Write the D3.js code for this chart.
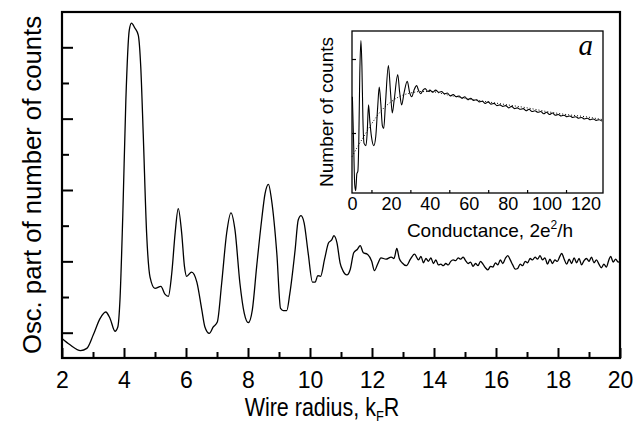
<!DOCTYPE html>
<html><head><meta charset="utf-8">
<script src="https://cdn.jsdelivr.net/npm/d3@7"></script>
<style>
body{margin:0;background:#fff;}
svg{display:block;font-family:"Liberation Sans",Arial,Helvetica,sans-serif;}
</style></head>
<body>
<svg id="chart" width="640" height="436"></svg>
<script>
// ---- main chart data: wire radius kFR vs oscillating part of counts ----
const mainX = [2.0,2.26,2.6,2.8,3.01,3.23,3.41,3.55,3.71,3.8,3.87,3.96,4.06,4.17,4.24,4.35,4.46,4.54,4.62,4.73,4.84,5.0,5.19,5.32,5.43,5.54,5.65,5.75,5.86,5.95,6.02,6.18,6.35,6.51,6.61,6.75,6.88,7.01,7.15,7.31,7.45,7.58,7.74,7.88,8.01,8.14,8.28,8.44,8.55,8.66,8.76,8.93,9.05,9.14,9.25,9.35,9.52,9.62,9.71,9.81,9.94,10.08,10.17,10.25,10.34,10.47,10.6,10.7,10.77,10.87,10.97,11.06,11.19,11.3,11.41,11.53,11.62,11.72,11.85,11.99,12.08,12.18,12.29,12.45,12.62,12.71,12.8,12.88,12.97,13.11,13.24,13.37,13.5,
13.58,13.66,13.74,13.82,13.9,13.98,14.06,14.14,14.22,14.3,14.38,14.46,14.54,14.62,14.7,14.78,14.86,14.94,15.02,15.1,15.18,15.26,15.34,15.42,15.5,15.58,15.66,15.74,15.82,15.9,15.98,16.06,16.14,16.22,16.3,16.38,16.46,16.54,16.62,16.7,16.78,16.86,16.94,17.02,17.1,17.18,17.26,17.34,17.42,17.5,17.58,17.66,17.74,17.82,17.9,17.98,18.06,18.12,18.2,18.28,18.36,18.44,18.52,18.6,18.68,18.76,18.84,18.92,19.0,19.08,19.16,19.24,19.32,19.4,19.48,19.56,19.64,19.7,19.78,19.86,19.94,20.0];
const mainY = [-1.08,-1.17,-1.25,-1.22,-1.03,-0.8,-0.71,-0.8,-0.98,-0.92,-0.54,0.63,2.26,3.24,3.34,3.27,3.17,2.73,1.79,0.39,-0.22,-0.38,-0.35,-0.46,-0.49,-0.17,0.4,0.74,0.4,-0.07,-0.21,-0.15,-0.29,-0.68,-0.92,-1.01,-0.92,-0.85,-0.31,0.39,0.68,0.44,-0.31,-0.73,-0.86,-0.68,-0.07,0.58,0.95,1.08,0.86,0.11,-0.66,-0.69,-0.69,-0.45,0.16,0.58,0.64,0.54,0.12,-0.29,-0.29,-0.2,-0.21,0.03,0.26,0.3,0.36,0.26,-0.02,-0.13,-0.19,-0.11,0.12,0.17,0.22,0.12,0.1,0.0,-0.13,-0.04,0.05,0.03,0.06,0.04,0.18,0.04,-0.02,-0.06,0.03,0.1,0.02,
0.07,-0.02,0.04,0.0,0.05,-0.03,0.02,-0.05,-0.04,-0.06,-0.03,-0.05,0.0,0.02,0.01,0.05,0.03,0.06,0.01,-0.03,-0.01,-0.07,-0.03,-0.06,0.0,-0.04,-0.09,-0.12,-0.07,-0.08,-0.02,-0.05,0.02,-0.03,0.04,0.08,0.02,-0.05,-0.11,-0.1,-0.04,-0.06,0.0,-0.02,0.04,0.02,0.06,0.03,0.08,0.02,0.05,-0.04,0.03,-0.03,0.02,0.0,0.07,0.11,0.03,-0.04,0.03,-0.03,0.05,-0.02,0.04,-0.05,0.01,0.04,0.0,0.06,-0.02,0.02,-0.04,-0.09,-0.04,-0.08,0.02,0.07,-0.01,0.03,-0.01,0.0];
const mainXTicks = [2,4,6,8,10,12,14,16,18,20];
const mainXMinor = [3,5,7,9,11,13,15,17,19];
const mainYTicks = [-1,0,1,2,3];
const mainYMinor = [-0.5,0.5,1.5,2.5];

// ---- inset data: conductance histogram ----
const insetX = [0.2,0.8,1.4,1.9,2.5,3.0,3.5,4.0,4.6,5.1,5.6,6.2,7.2,7.8,8.5,9.2,10.0,11.2,12.2,13.2,14.0,14.8,15.6,16.3,17.2,18.7,19.8,20.7,21.7,23.5,24.5,25.5,26.8,28.4,29.6,30.7,31.9,33.2,34.3,35.3,36.5,37.6,39.0,
40,41.5,43,44.5,46,47.5,49,50.5,52,53.5,55,56.5,58,59.5,61,62.5,64,65.5,67,68.5,70,71.5,73,74.5,76,77.5,79,80.5,82,83.5,85,86.5,88,89.5,91,92.5,94,95.5,97,98.5,100,101.5,103,104.5,106,107.5,109,110.5,112,113.5,115,116.5,118,119.5,121,122.5,124,125.5,127,128.5];
const insetY = [1.49,0.9,0.3,0.22,0.45,0.48,0.9,1.8,2.25,1.9,1.2,0.86,0.83,1.0,1.38,1.15,0.95,0.83,0.95,1.35,1.62,1.4,1.1,1.06,1.4,1.91,1.55,1.27,1.45,1.79,1.55,1.38,1.55,1.7,1.55,1.49,1.58,1.64,1.57,1.53,1.58,1.6,1.56,
1.58,1.55,1.58,1.55,1.56,1.53,1.54,1.5,1.52,1.49,1.5,1.47,1.49,1.45,1.47,1.44,1.45,1.42,1.43,1.4,1.42,1.39,1.4,1.37,1.38,1.36,1.37,1.34,1.36,1.33,1.34,1.32,1.33,1.3,1.32,1.29,1.3,1.28,1.29,1.26,1.28,1.25,1.27,1.24,1.25,1.23,1.24,1.22,1.23,1.21,1.22,1.2,1.21,1.19,1.2,1.18,1.19,1.17,1.18,1.16];
const fitX = [0,3,6,10,15,20,25,30,35,40,50,60,70,80,90,100,110,120,129];
const fitY = [0.68,0.82,0.95,1.12,1.3,1.42,1.5,1.54,1.56,1.56,1.51,1.46,1.42,1.38,1.34,1.29,1.25,1.22,1.18];
const insetXTicks = [0,20,40,60,80,100,120];
const insetXMinor = [10,30,50,70,90,110];
const insetYTicks = [1,2];

const svg = d3.select("#chart");

// ---- main plot ----
const L=62, R=620, T=12, B=358;
const x = d3.scaleLinear().domain([2,20]).range([L,R]);
const y = d3.scaleLinear().domain([-1,3]).range([332.7,47.3]);

svg.append("rect").attr("x",L).attr("y",T).attr("width",R-L).attr("height",B-T)
  .attr("fill","none").attr("stroke","#000").attr("stroke-width",2.2);

const gx = svg.append("g").attr("transform",`translate(0,${B})`)
  .call(d3.axisBottom(x).tickValues(mainXTicks).tickSize(-10).tickPadding(14).tickFormat(d3.format("d")));
gx.select(".domain").remove();
gx.selectAll("line").attr("stroke-width",2);
gx.selectAll("text").attr("font-size",23).attr("fill","#000");
const gxm = svg.append("g").attr("transform",`translate(0,${B})`)
  .call(d3.axisBottom(x).tickValues(mainXMinor).tickSize(-6).tickFormat(""));
gxm.select(".domain").remove();
gxm.selectAll("line").attr("stroke-width",2);

const gy = svg.append("g").attr("transform",`translate(${L},0)`)
  .call(d3.axisLeft(y).tickValues(mainYTicks).tickSize(-11).tickFormat(""));
gy.select(".domain").remove();
gy.selectAll("line").attr("stroke-width",2);
const gym = svg.append("g").attr("transform",`translate(${L},0)`)
  .call(d3.axisLeft(y).tickValues(mainYMinor).tickSize(-7).tickFormat(""));
gym.select(".domain").remove();
gym.selectAll("line").attr("stroke-width",2);

const mainData = mainX.map((d,i)=>[d,mainY[i]]);
svg.append("path").datum(mainData)
  .attr("fill","none").attr("stroke","#000").attr("stroke-width",1.3)
  .attr("d", d3.line().x(d=>x(d[0])).y(d=>y(d[1])).curve(d3.curveMonotoneX));

// axis titles
const xt = svg.append("text").attr("transform","translate(322,416) scale(0.86,1)").attr("text-anchor","middle")
  .attr("font-size",25).attr("fill","#000");
xt.append("tspan").text("Wire radius,  k");
xt.append("tspan").attr("font-size",15).attr("dy",5).text("F");
xt.append("tspan").attr("dy",-5).text("R");

svg.append("text").attr("transform","translate(41,185) rotate(-90)").attr("text-anchor","middle")
  .attr("font-size",26.5).attr("fill","#000")
  .attr("textLength",338).attr("lengthAdjust","spacingAndGlyphs")
  .text("Osc. part of number of counts");

// ---- inset ----
const iL=352, iR=603, iT=31, iB=193;
const ix = d3.scaleLinear().domain([0,129]).range([iL,iR]);
const iy = d3.scaleLinear().domain([1,2]).range([133,59]);

svg.append("rect").attr("x",iL).attr("y",iT).attr("width",iR-iL).attr("height",iB-iT)
  .attr("fill","#fff").attr("stroke","#000").attr("stroke-width",1.3);

const igx = svg.append("g").attr("transform",`translate(0,${iB})`)
  .call(d3.axisBottom(ix).tickValues(insetXTicks).tickSize(0).tickPadding(4).tickFormat(d3.format("d")));
igx.select(".domain").remove();
igx.selectAll("text").attr("font-size",18).attr("fill","#000");
const igxm = svg.append("g").attr("transform",`translate(0,${iB})`)
  .call(d3.axisBottom(ix).tickValues(insetXMinor).tickSize(-3).tickFormat(""));
igxm.select(".domain").remove();
igxm.selectAll("line").attr("stroke-width",1.2);
const igy = svg.append("g").attr("transform",`translate(${iL},0)`)
  .call(d3.axisLeft(iy).tickValues(insetYTicks).tickSize(-4).tickFormat(""));
igy.select(".domain").remove();
igy.selectAll("line").attr("stroke-width",1.2);

svg.append("path").datum(fitX.map((d,i)=>[d,fitY[i]]))
  .attr("fill","none").attr("stroke","#000").attr("stroke-width",1).attr("stroke-dasharray","1,2")
  .attr("d", d3.line().x(d=>ix(d[0])).y(d=>iy(d[1])).curve(d3.curveMonotoneX));
svg.append("path").datum(insetX.map((d,i)=>[d,insetY[i]]))
  .attr("fill","none").attr("stroke","#000").attr("stroke-width",1.1)
  .attr("d", d3.line().x(d=>ix(d[0])).y(d=>iy(d[1])).curve(d3.curveMonotoneX));

const ixt = svg.append("text").attr("x",490).attr("y",237).attr("text-anchor","middle")
  .attr("font-size",19).attr("fill","#000");
ixt.append("tspan").text("Conductance, 2e");
ixt.append("tspan").attr("font-size",12).attr("dy",-8).text("2");
ixt.append("tspan").attr("dy",8).text("/h");

svg.append("text").attr("transform","translate(333,112) rotate(-90)").attr("text-anchor","middle")
  .attr("font-size",19).attr("fill","#000").text("Number of counts");

svg.append("text").attr("x",593).attr("y",55).attr("text-anchor","end")
  .attr("font-family","'Liberation Serif','Times New Roman',serif").attr("font-style","italic")
  .attr("font-size",29).attr("fill","#000").text("a");
</script>
</body></html>
